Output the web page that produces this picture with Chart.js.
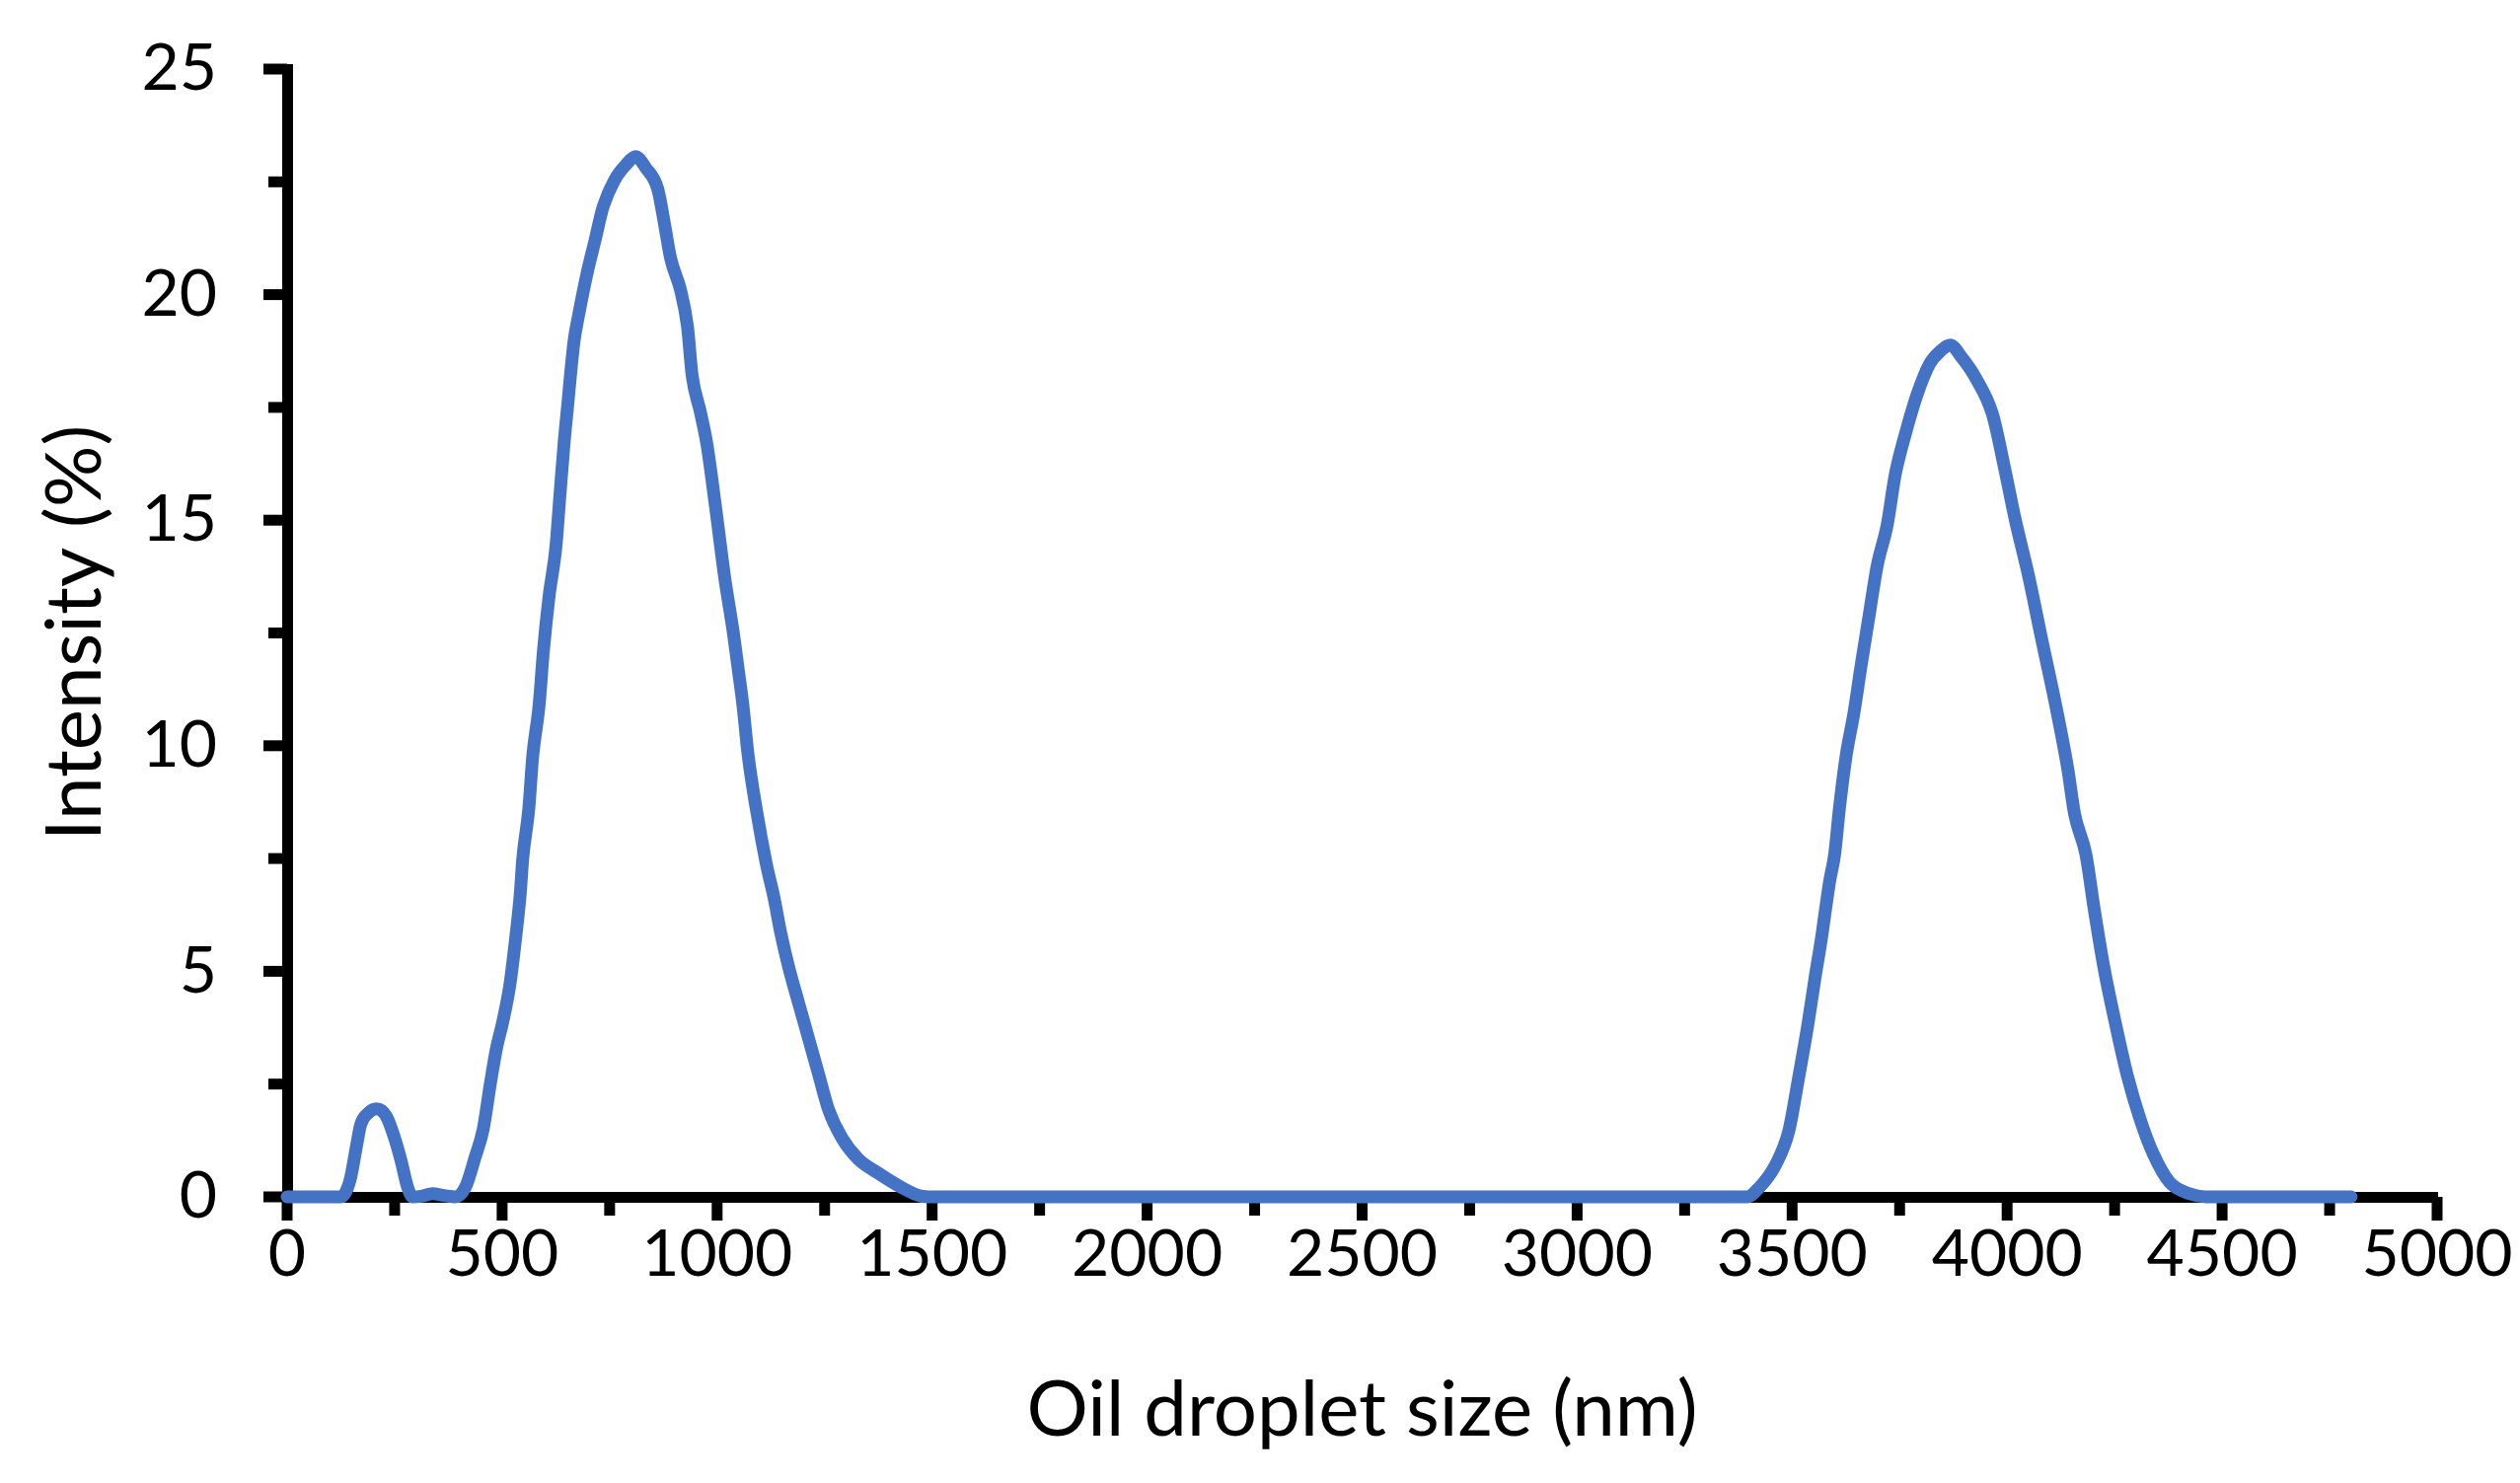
<!DOCTYPE html>
<html>
<head>
<meta charset="utf-8">
<script src="https://cdn.jsdelivr.net/npm/chart.js@4/dist/chart.umd.min.js"></script>
<style>
    html, body { margin: 0; padding: 0; background: #fff; }
    #chart { display: block; }
</style>
</head>
<body>
<canvas id="chart" width="2554" height="1503"></canvas>
<script>
// droplet size (nm) and intensity (%)
const sizes = [
    0, 50, 100, 125, 146, 162, 171, 189, 208, 231, 250, 265, 280, 292, 315, 338, 365, 391,
    415, 437, 456, 472, 487, 502, 518, 531, 542, 548, 562, 571, 586, 596, 609, 625, 634, 644,
    651, 667, 678, 697, 716, 735, 762, 790, 810, 835, 862, 877, 892, 915, 931, 942, 961, 976,
    988, 1003, 1018, 1037, 1049, 1060, 1072, 1091, 1114, 1133, 1148, 1167, 1190, 1213, 1236,
    1259, 1290, 1328, 1374, 1427, 1473, 1500, 2000, 2500, 3000, 3395, 3423, 3461, 3492, 3514,
    3537, 3553, 3568, 3587, 3599, 3610, 3625, 3644, 3660, 3679, 3698, 3721, 3740, 3763, 3790,
    3820, 3845, 3868, 3895, 3927, 3966, 3992, 4019, 4050, 4080, 4111, 4141, 4157, 4183, 4203,
    4225, 4252, 4279, 4310, 4340, 4378, 4424, 4462, 4500, 4800
];
const intensity = [
    0, 0, 0, 0, 0.36, 1.16, 1.6, 1.86, 1.95, 1.78, 1.3, 0.8, 0.22, 0, 0.02, 0.07, 0.03, 0,
    0.22, 0.87, 1.5, 2.47, 3.3, 3.9, 4.7, 5.7, 6.7, 7.5, 8.6, 9.75, 10.9, 12.1, 13.3, 14.4, 15.5, 16.7,
    17.4, 18.95, 19.55, 20.45, 21.2, 21.95, 22.55, 22.9, 23.06, 22.8, 22.34, 21.6, 20.8, 20.1, 19.3, 18.2, 17.4, 16.7,
    15.9, 14.8, 13.7, 12.55, 11.7, 10.9, 9.8, 8.6, 7.4, 6.6, 5.85, 5.07, 4.28, 3.5, 2.72,
    1.94, 1.31, 0.84, 0.53, 0.22, 0.02, 0, 0, 0, 0, 0, 0.2, 0.7, 1.45, 2.58,
    3.84, 4.84, 5.72, 6.98, 7.6, 8.61, 9.74, 10.74, 11.75, 12.88, 14.0, 14.89, 16.02, 16.9, 17.77,
    18.47, 18.75, 18.88, 18.6, 18.15, 17.35, 16.25, 15.01, 13.76, 12.38, 10.99, 9.49, 8.48, 7.6, 6.35,
    5.09, 3.84, 2.71, 1.7, 0.95, 0.32, 0.07, 0, 0, 0
];

const xMin = 0, xMax = 5000, xMajor = 500, xMinor = 250;
const yMin = 0, yMax = 25, yMajor = 5, yMinor = 2.5;

const xTitle = 'Oil droplet size (nm)';
const yTitle = 'Intensity (%)';

const fontFamily = 'Lato, "Open Sans", sans-serif';

// tick marks drawn outside the axes, long for major and short for minor
const axisTicks = {
    id: 'axisTicks',
    beforeDatasetsDraw(chart) {
        const c = chart.ctx;
        const xs = chart.scales.x;
        const ys = chart.scales.y;
        const bottom = chart.chartArea.bottom;
        const left = chart.chartArea.left;
        c.save();
        c.strokeStyle = '#000';
        c.lineWidth = 11;
        for (let v = xMin; v <= xMax; v += xMinor) {
            let px = xs.getPixelForValue(v);
            let len = (v % xMajor === 0) ? 24 : 19;
            c.beginPath();
            c.moveTo(px, bottom);
            c.lineTo(px, bottom + len);
            c.stroke();
        }
        for (let v = yMin; v <= yMax; v += yMinor) {
            let py = ys.getPixelForValue(v);
            let len = (v % yMajor === 0) ? 24 : 19;
            c.beginPath();
            c.moveTo(left, py);
            c.lineTo(left - len, py);
            c.stroke();
        }
        c.restore();
    }
};

const ctx = document.getElementById('chart').getContext('2d');

let chart = new Chart(ctx, {
    type: 'line',
    data: {
        datasets: [{
            label: 'Intensity',
            data: sizes.map((s, i) => ({ x: s, y: intensity[i] })),
            borderColor: '#4472C4',
            borderWidth: 13,
            borderCapStyle: 'round',
            borderJoinStyle: 'round',
            cubicInterpolationMode: 'monotone',
            pointRadius: 0,
            fill: false,
            clip: false
        }]
    },
    options: {
        responsive: false,
        animation: false,
        layout: { padding: { top: 70, right: 84, left: 0, bottom: 0 } },
        plugins: {
            legend: { display: false },
            tooltip: { enabled: false }
        },
        scales: {
            x: {
                type: 'linear',
                min: xMin,
                max: xMax,
                // the library's own tick marks are kept invisible; they only space the labels
                grid: { display: true, drawOnChartArea: false, drawTicks: true, tickLength: 15, tickColor: 'rgba(0,0,0,0)' },
                border: { display: true, color: '#000', width: 11 },
                ticks: {
                    stepSize: xMajor,
                    color: '#000',
                    padding: 4,
                    maxRotation: 0,
                    autoSkip: false,
                    font: { family: fontFamily, size: 66 },
                    callback: v => String(v)
                },
                title: {
                    display: true,
                    text: xTitle,
                    color: '#000',
                    font: { family: fontFamily, size: 78, lineHeight: 1 },
                    padding: { top: 0, bottom: 34 }
                },
                afterFit: scale => { scale.height = 290; }
            },
            y: {
                type: 'linear',
                min: yMin,
                max: yMax,
                grid: { display: true, drawOnChartArea: false, drawTicks: true, tickLength: 60, tickColor: 'rgba(0,0,0,0)' },
                border: { display: true, color: '#000', width: 11 },
                ticks: {
                    stepSize: yMajor,
                    color: '#000',
                    padding: 11,
                    font: { family: fontFamily, size: 66 },
                    callback: v => String(v)
                },
                title: {
                    display: true,
                    text: yTitle,
                    color: '#000',
                    font: { family: fontFamily, size: 78, lineHeight: 1 },
                    padding: { top: 38, bottom: 0 }
                },
                afterFit: scale => { scale.width = 291; }
            }
        }
    },
    plugins: [axisTicks]
});
</script>
</body>
</html>
